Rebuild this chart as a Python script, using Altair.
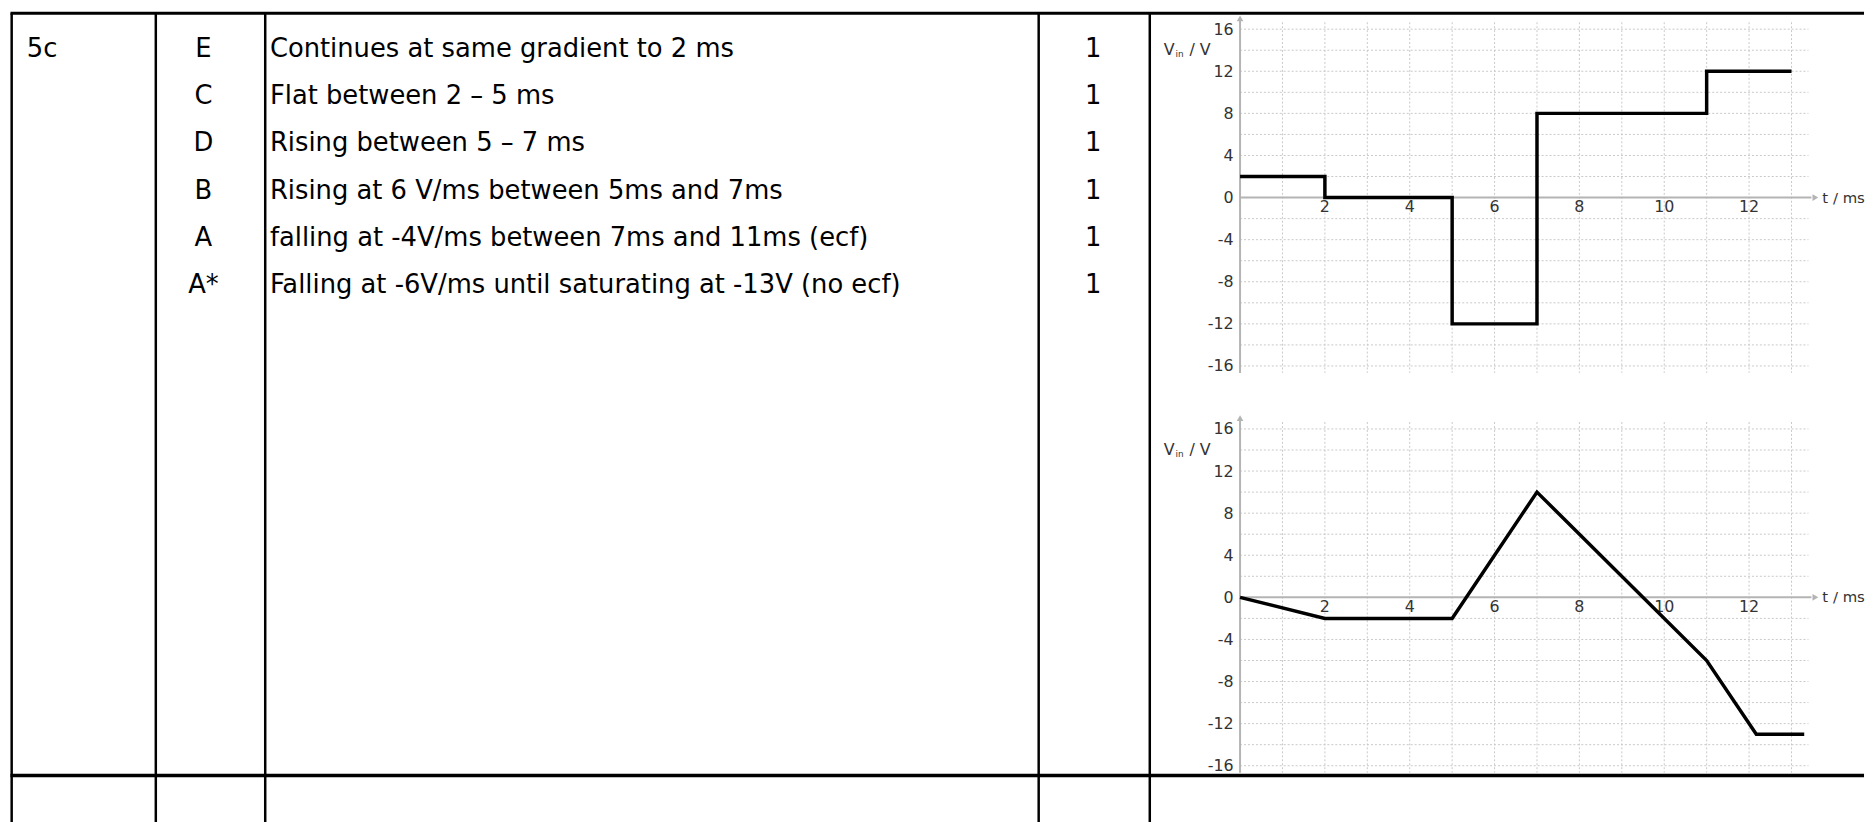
import altair as alt
import pandas as pd

# ---------------- data ----------------
question = "5c"
letters = ["E", "C", "D", "B", "A", "A*"]
descriptions = [
    "Continues at same gradient to 2 ms",
    "Flat between 2 \u2013 5 ms",
    "Rising between 5 \u2013 7 ms",
    "Rising at 6 V/ms between 5ms and 7ms",
    "falling at -4V/ms between 7ms and 11ms (ecf)",
    "Falling at -6V/ms until saturating at -13V (no ecf)",
]
marks = ["1", "1", "1", "1", "1", "1"]

# upper graph (step input)
t_upper = [0, 2, 5, 7, 11, 13]
v_upper = [2, 0, -12, 8, 12, 12]
# lower graph (answer trace)
t_lower = [0, 2, 5, 7, 11, 12.17, 13.3]
v_lower = [0, -2, -2, 10, -6, -13, -13]

x_ticks = [2, 4, 6, 8, 10, 12]
y_ticks = [-16, -12, -8, -4, 0, 4, 8, 12, 16]
x_grid = list(range(1, 14))
y_grid = [-16, -14, -12, -10, -8, -6, -4, -2, 2, 4, 6, 8, 10, 12, 14, 16]

# ---------------- layout / style ----------------
W, H = 573, 339.5
FONT = "DejaVu Sans"
GRID = "#c8c8c8"
AXIS = "#b4b4b4"
LABEL = "#333333"
XS = alt.Scale(domain=[0, 13.4], nice=False, zero=False)
YS = alt.Scale(domain=[-16, 16], nice=False, zero=False)


def one():
    return alt.Data(values=[{}])


def graph(t, v, step):
    df = pd.DataFrame({"t": t, "v": v})
    xg = alt.Chart(pd.DataFrame({"t": x_grid})).mark_rule(
        color=GRID, strokeDash=[2, 2], strokeWidth=1
    ).encode(x=alt.X("t:Q", scale=XS, axis=None), y=alt.value(-7), y2=alt.value(H + 7))
    yg = alt.Chart(pd.DataFrame({"v": y_grid})).mark_rule(
        color=GRID, strokeDash=[2, 2], strokeWidth=1
    ).encode(
        y=alt.Y(
            "v:Q",
            scale=YS,
            axis=alt.Axis(
                values=y_ticks, ticks=False, tickSize=0, domain=False, grid=False,
                labelFontSize=16, labelFont=FONT, labelColor=LABEL, labelPadding=7,
                labelExpr="'' + datum.value", title=None,
            ),
        ),
        x=alt.value(0),
        x2=alt.value(W),
    )
    yaxis = alt.Chart(one()).mark_rule(color=AXIS, strokeWidth=2).encode(
        x=alt.datum(0), y=alt.value(-10), y2=alt.value(H + 7)
    )
    yarrow = alt.Chart(one()).mark_point(
        shape="triangle-up", filled=True, size=45, color=AXIS, opacity=1
    ).encode(x=alt.datum(0), y=alt.value(-11))
    xaxis = alt.Chart(one()).mark_rule(color=AXIS, strokeWidth=2).encode(
        y=alt.datum(0), x=alt.value(0), x2=alt.value(W + 3)
    )
    xarrow = alt.Chart(one()).mark_point(
        shape="triangle-right", filled=True, size=45, color=AXIS, opacity=1
    ).encode(x=alt.value(W + 7), y=alt.datum(0))
    tlab = alt.Chart(one()).mark_text(
        text="t / ms", align="left", baseline="middle", fontSize=15, font=FONT, color=LABEL
    ).encode(x=alt.value(W + 14), y=alt.datum(0))
    xlab = alt.Chart(pd.DataFrame({"t": x_ticks})).mark_text(
        baseline="middle", dy=10, fontSize=16, font=FONT, color=LABEL
    ).encode(x="t:Q", y=alt.datum(0), text="t:Q")
    v1 = alt.Chart(one()).mark_text(
        text="V", align="left", baseline="middle", fontSize=16, font=FONT, color=LABEL
    ).encode(x=alt.value(-77), y=alt.datum(14))
    v2 = alt.Chart(one()).mark_text(
        text="in", align="left", baseline="middle", dy=4, fontSize=9, font=FONT, color=LABEL
    ).encode(x=alt.value(-65), y=alt.datum(14))
    v3 = alt.Chart(one()).mark_text(
        text="/ V", align="left", baseline="middle", fontSize=16, font=FONT, color=LABEL
    ).encode(x=alt.value(-51), y=alt.datum(14))
    line = alt.Chart(df).mark_line(
        color="black", strokeWidth=3.5, strokeJoin="miter",
        interpolate="step-after" if step else "linear",
    ).encode(x="t:Q", y="v:Q")
    return alt.layer(xg, yg, yaxis, yarrow, xaxis, xarrow, tlab, xlab, v1, v2, v3, line)


# ---------------- table (drawn relative to the upper graph) ----------------
def vline(x, y1, y2, w=2.5):
    return alt.Chart(one()).mark_rule(color="black", strokeWidth=w).encode(
        x=alt.value(x), y=alt.value(y1), y2=alt.value(y2)
    )


def hline(y, x1, x2, w=3):
    return alt.Chart(one()).mark_rule(color="black", strokeWidth=w).encode(
        y=alt.value(y), x=alt.value(x1), x2=alt.value(x2)
    )


LEFT = -1238.3
TOP, BOT, RIGHT = -16, 810, 629
rows = pd.DataFrame({"r": list(range(len(letters))), "letter": letters,
                     "desc": descriptions, "mark": marks})
RY = alt.Y("r:Q", scale=alt.Scale(domain=[0, 5], range=[19.8, 19.8 + 5 * 47.7]), axis=None)
txt = dict(baseline="middle", fontSize=26, font=FONT, color="black")

q = alt.Chart(pd.DataFrame({"r": [0], "q": [question]})).mark_text(align="left", **txt).encode(
    x=alt.value(-1223), y=RY, text="q:N")
let = alt.Chart(rows).mark_text(align="center", **txt).encode(
    x=alt.value(-1045), y=RY, text="letter:N")
desc = alt.Chart(rows).mark_text(align="left", **txt).encode(
    x=alt.value(-978), y=RY, text="desc:N")
mk = alt.Chart(rows).mark_text(align="center", **txt).encode(
    x=alt.value(-148), y=RY, text="mark:N")

table = alt.layer(
    hline(TOP, LEFT - 1.2, RIGHT, 3),
    hline(752.3, LEFT - 1.2, RIGHT, 3.5),
    vline(LEFT, TOP, BOT),
    vline(-1093, TOP, BOT),
    vline(-982.7, TOP, BOT),
    vline(-203, TOP, BOT),
    vline(-91, TOP, BOT),
    q, let, desc, mk,
)

upper = alt.layer(graph(t_upper, v_upper, True), table).resolve_scale(y="independent").properties(
    width=W, height=H)
lower = graph(t_lower, v_lower, False).properties(width=W, height=H)

chart = alt.vconcat(upper, lower, spacing=63, bounds="flush").properties(
    padding=0, background="white"
).configure_view(stroke=None)

chart.save("out.html", embed_options={"renderer": "svg", "actions": False})
